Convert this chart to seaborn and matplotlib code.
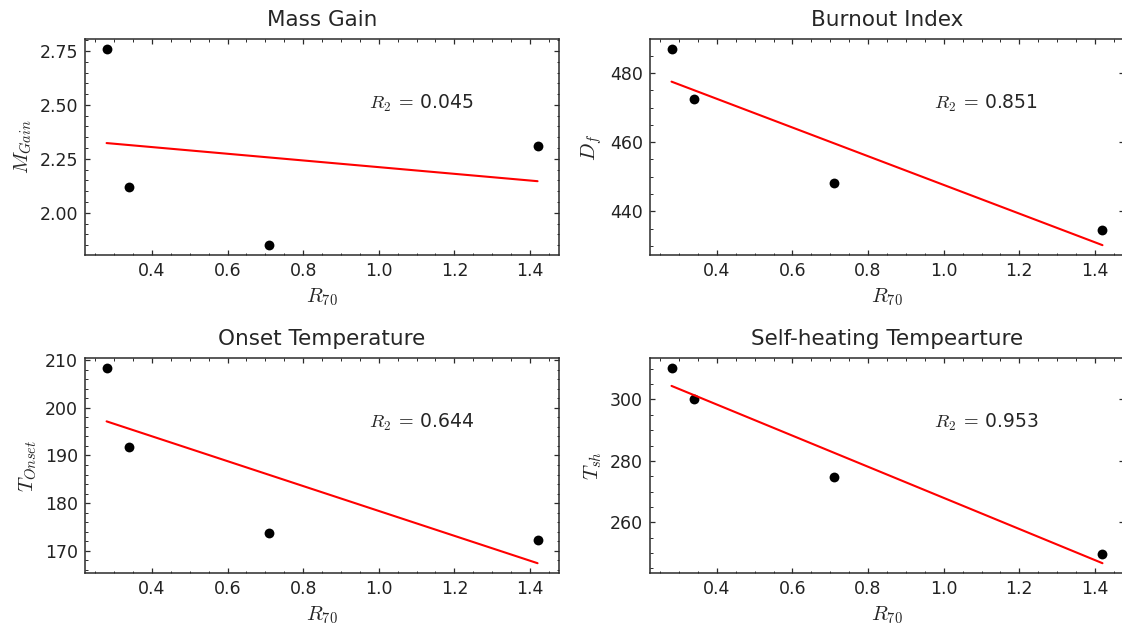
import matplotlib
matplotlib.use("Agg")
import matplotlib.pyplot as plt
from matplotlib.ticker import MultipleLocator, FormatStrFormatter
import pandas as pd
import seaborn as sns

# R70 shared x values
r70 = [0.28, 0.34, 0.71, 1.42]

mass_gain = [2.76, 2.12, 1.85, 2.31]
burnout = [487.0, 472.6, 448.1, 434.7]
onset = [208.4, 191.7, 173.8, 172.2]
self_heat = [310.3, 300.2, 274.9, 249.7]

titles = ["Mass Gain", "Burnout Index", "Onset Temperature", "Self-heating Tempearture"]
ylabels = [r"$M_{Gain}$", r"$D_f$", r"$T_{Onset}$", r"$T_{sh}$"]
r2_vals = ["0.045", "0.851", "0.644", "0.953"]
y_major = [0.25, 20, 10, 20]
y_minor = [0.05, 5, 2, 5]

sns.set_theme(style="ticks")
plt.rcParams.update({
    "font.family": ["DejaVu Sans"],
    "mathtext.fontset": "cm",
    "xtick.direction": "in", "ytick.direction": "in",
    "xtick.top": True, "ytick.right": True,
    "xtick.minor.visible": True, "ytick.minor.visible": True,
    "xtick.major.size": 3.5, "ytick.major.size": 3.5,
    "xtick.minor.size": 1.8, "ytick.minor.size": 1.8,
    "xtick.major.width": 0.9, "ytick.major.width": 0.9,
    "xtick.minor.width": 0.7, "ytick.minor.width": 0.7,
    "xtick.major.pad": 5, "ytick.major.pad": 5,
    "axes.edgecolor": "#2b2b2b", "axes.linewidth": 1.1,
    "xtick.color": "#2b2b2b", "ytick.color": "#2b2b2b",
    "xtick.labelcolor": "#222222", "ytick.labelcolor": "#222222",
})

fig = plt.figure(figsize=(11.22, 6.26), dpi=100)
rects = [
    [0.0758, 0.5927, 0.4225, 0.345],
    [0.5793, 0.5927, 0.4225, 0.345],
    [0.0758, 0.0847, 0.4225, 0.3435],
    [0.5793, 0.0847, 0.4225, 0.3435],
]
series = [mass_gain, burnout, onset, self_heat]

for i, ys in enumerate(series):
    ax = fig.add_axes(rects[i])
    df = pd.DataFrame({"r70": r70, "y": ys})
    sns.regplot(data=df, x="r70", y="y", ax=ax, ci=None,
                scatter_kws=dict(s=50, color="black", linewidths=0, alpha=1),
                line_kws=dict(color="red", lw=1.5))
    ax.set_title(titles[i], fontsize=15.5, pad=9)
    ax.set_xlabel(r"$R_{70}$", fontsize=15, labelpad=5)
    ax.set_ylabel(ylabels[i], fontsize=15, labelpad=4)
    ax.xaxis.set_major_locator(MultipleLocator(0.2))
    ax.xaxis.set_minor_locator(MultipleLocator(0.05))
    ax.yaxis.set_major_locator(MultipleLocator(y_major[i]))
    ax.yaxis.set_minor_locator(MultipleLocator(y_minor[i]))
    ax.tick_params(which="both", labelsize=12.5)
    if i == 0:
        ax.yaxis.set_major_formatter(FormatStrFormatter("%.2f"))
    ax.text(0.6, 0.70, r"$R_2\;=\,$" + r2_vals[i], transform=ax.transAxes,
            fontsize=13.5, va="center", ha="left")

fig.savefig("out.png", dpi=100)
